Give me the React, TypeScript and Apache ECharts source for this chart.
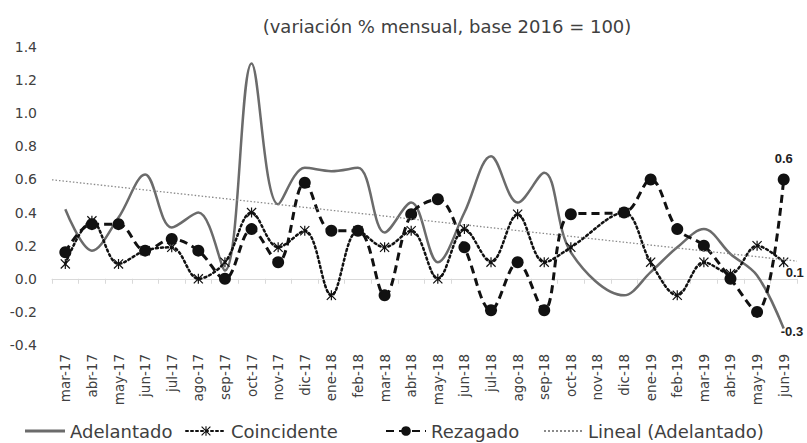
import React, { useEffect, useRef } from 'react';
import * as echarts from 'echarts';

const categories = [
  'mar-17', 'abr-17', 'may-17', 'jun-17', 'jul-17', 'ago-17', 'sep-17', 'oct-17', 'nov-17', 'dic-17',
  'ene-18', 'feb-18', 'mar-18', 'abr-18', 'may-18', 'jun-18', 'jul-18', 'ago-18', 'sep-18', 'oct-18',
  'nov-18', 'dic-18', 'ene-19', 'feb-19', 'mar-19', 'abr-19', 'may-19', 'jun-19',
];

const adelantado = [
  0.42, 0.17, 0.37, 0.63, 0.31, 0.40, 0.05, 1.30, 0.45, 0.67,
  0.65, 0.67, 0.28, 0.46, 0.10, 0.40, 0.74, 0.46, 0.64, 0.16,
  null, -0.10, 0.04, 0.19, 0.30, 0.15, 0.02, -0.30,
];

const coincidente = [
  0.09, 0.35, 0.09, 0.17, 0.19, 0.0, 0.10, 0.40, 0.19, 0.29,
  -0.10, 0.29, 0.19, 0.29, 0.0, 0.30, 0.10, 0.39, 0.10, 0.19,
  null, 0.40, 0.10, -0.10, 0.10, 0.03, 0.20, 0.10,
];

const rezagado = [
  0.16, 0.33, 0.33, 0.17, 0.24, 0.17, 0.0, 0.30, 0.10, 0.58,
  0.29, 0.29, -0.10, 0.39, 0.48, 0.19, -0.19, 0.10, -0.19, 0.39,
  null, 0.40, 0.60, 0.30, 0.20, 0.0, -0.20, 0.60,
];

const seriesNames = ['Adelantado', 'Coincidente', 'Rezagado', 'Lineal (Adelantado)'];
const titleText = '(variación % mensual, base 2016 = 100)';

const FONT = 'DejaVu Sans';
const TEXT = '#404040';

const ASTERISK =
  'path://M4.4 0L5.6 0L5.6 10L4.4 10Z M0 0.85L0.85 0L10 9.15L9.15 10Z M10 0.85L0.85 10L0 9.15L9.15 0Z';
const SOLID_ICON = 'path://M0 0h40v3h-40z';
const DOTTED_ICON =
  'path://' + Array.from({ length: 10 }, (_, k) => `M${k * 4} 0h2v2h-2z`).join(' ');

function linearTrend(vals: (number | null)[]) {
  const pts: [number, number][] = [];
  vals.forEach((v, i) => {
    if (v != null) pts.push([i, v]);
  });
  const n = pts.length;
  const mx = pts.reduce((s, p) => s + p[0], 0) / n;
  const my = pts.reduce((s, p) => s + p[1], 0) / n;
  let sxy = 0;
  let sxx = 0;
  pts.forEach(([x, y]) => {
    sxy += (x - mx) * (y - my);
    sxx += (x - mx) * (x - mx);
  });
  const b = sxy / sxx;
  const a = my - b * mx;
  const x0 = -0.5;
  const x1 = vals.length - 0.5;
  return [
    [x0, a + b * x0],
    [x1, a + b * x1],
  ];
}

function withLastLabel(vals: (number | null)[], label: any) {
  return vals.map((v, i) =>
    i === vals.length - 1 ? { value: v, label: { show: true, ...label } } : v
  );
}

export default function App() {
  const ref = useRef<HTMLDivElement>(null);

  useEffect(() => {
    if (!ref.current) return;
    const chart = echarts.init(ref.current, undefined, { renderer: 'svg' });
    const labelBase = {
      fontFamily: 'Liberation Sans',
      fontSize: 13,
      fontWeight: 'bold',
      color: '#222',
      formatter: (p: any) => Number(p.value).toFixed(1),
    };
    const legendCommon = {
      top: 422,
      itemWidth: 40,
      itemHeight: 12,
      itemGap: 0,
      padding: 0,
      textStyle: { fontFamily: FONT, fontSize: 18, color: TEXT },
    };
    chart.setOption({
      animation: false,
      backgroundColor: '#fff',
      title: {
        text: titleText,
        left: 442,
        top: 12,
        textAlign: 'center',
        textStyle: { fontFamily: FONT, fontSize: 18, fontWeight: 'normal', color: TEXT },
      },
      legend: [
        {
          ...legendCommon,
          left: 25,
          itemHeight: 3,
          data: [{ name: seriesNames[0], icon: SOLID_ICON }],
        },
        { ...legendCommon, left: 185, data: [seriesNames[1]] },
        { ...legendCommon, left: 385, data: [seriesNames[2]] },
        {
          ...legendCommon,
          left: 544,
          itemHeight: 2,
          data: [{ name: seriesNames[3], icon: DOTTED_ICON }],
        },
      ],
      grid: { left: 52, right: 10, top: 47, bottom: 98, containLabel: false },
      xAxis: [
        {
          type: 'category',
          data: categories,
          position: 'bottom',
          boundaryGap: true,
          axisLine: { show: false, onZero: false },
          axisTick: { show: false },
          axisLabel: {
            rotate: 90,
            interval: 0,
            margin: 9,
            fontFamily: FONT,
            fontSize: 13.5,
            color: TEXT,
          },
        },
        {
          type: 'category',
          data: categories,
          position: 'bottom',
          boundaryGap: true,
          axisLine: { show: true, onZero: true, lineStyle: { color: '#d9d9d9', width: 1 } },
          axisTick: { show: true, length: 5, interval: 0, lineStyle: { color: '#d9d9d9' } },
          axisLabel: { show: false },
        },
        {
          type: 'value',
          min: -0.5,
          max: categories.length - 0.5,
          show: false,
        },
      ],
      yAxis: {
        type: 'value',
        min: -0.4,
        max: 1.4,
        interval: 0.2,
        axisLine: { show: false, onZero: false },
        axisTick: { show: false },
        splitLine: { show: false },
        axisLabel: {
          margin: 15,
          fontFamily: FONT,
          fontSize: 14,
          color: TEXT,
          formatter: (v: number) => v.toFixed(1),
        },
      },
      series: [
        {
          name: seriesNames[0],
          type: 'line',
          xAxisIndex: 0,
          data: withLastLabel(adelantado, { ...labelBase, position: 'right', distance: 0, offset: [-3, 3] }),
          smooth: 0.35,
          connectNulls: true,
          symbol: 'circle',
          symbolSize: 0.1,
          showAllSymbol: true,
          lineStyle: { color: '#6b6b6b', width: 2.5 },
          itemStyle: { color: '#6b6b6b' },
          z: 2,
        },
        {
          name: seriesNames[1],
          type: 'line',
          xAxisIndex: 0,
          data: withLastLabel(coincidente, { ...labelBase, position: 'right', distance: 0, offset: [-3, 10] }),
          smooth: 0.35,
          connectNulls: true,
          symbol: ASTERISK,
          symbolSize: 10,
          showAllSymbol: true,
          lineStyle: { color: '#111', width: 2.5, type: [2, 3], cap: 'round' },
          itemStyle: { color: '#111' },
          z: 3,
        },
        {
          name: seriesNames[2],
          type: 'line',
          xAxisIndex: 0,
          data: withLastLabel(rezagado, { ...labelBase, position: 'top', distance: 8 }),
          smooth: 0.35,
          connectNulls: true,
          symbol: 'circle',
          symbolSize: 12,
          showAllSymbol: true,
          lineStyle: { color: '#111', width: 3, type: [8, 5] },
          itemStyle: { color: '#111' },
          z: 4,
        },
        {
          name: seriesNames[3],
          type: 'line',
          xAxisIndex: 2,
          data: linearTrend(adelantado),
          symbol: 'none',
          lineStyle: { color: '#8a8a8a', width: 1.3, type: [1.5, 2] },
          itemStyle: { color: '#8a8a8a' },
          z: 5,
        },
      ],
    });
    return () => chart.dispose();
  }, []);

  return (
    <div
      ref={ref}
      style={{ position: 'absolute', left: 0, top: 0, width: 807, height: 443 }}
    />
  );
}
